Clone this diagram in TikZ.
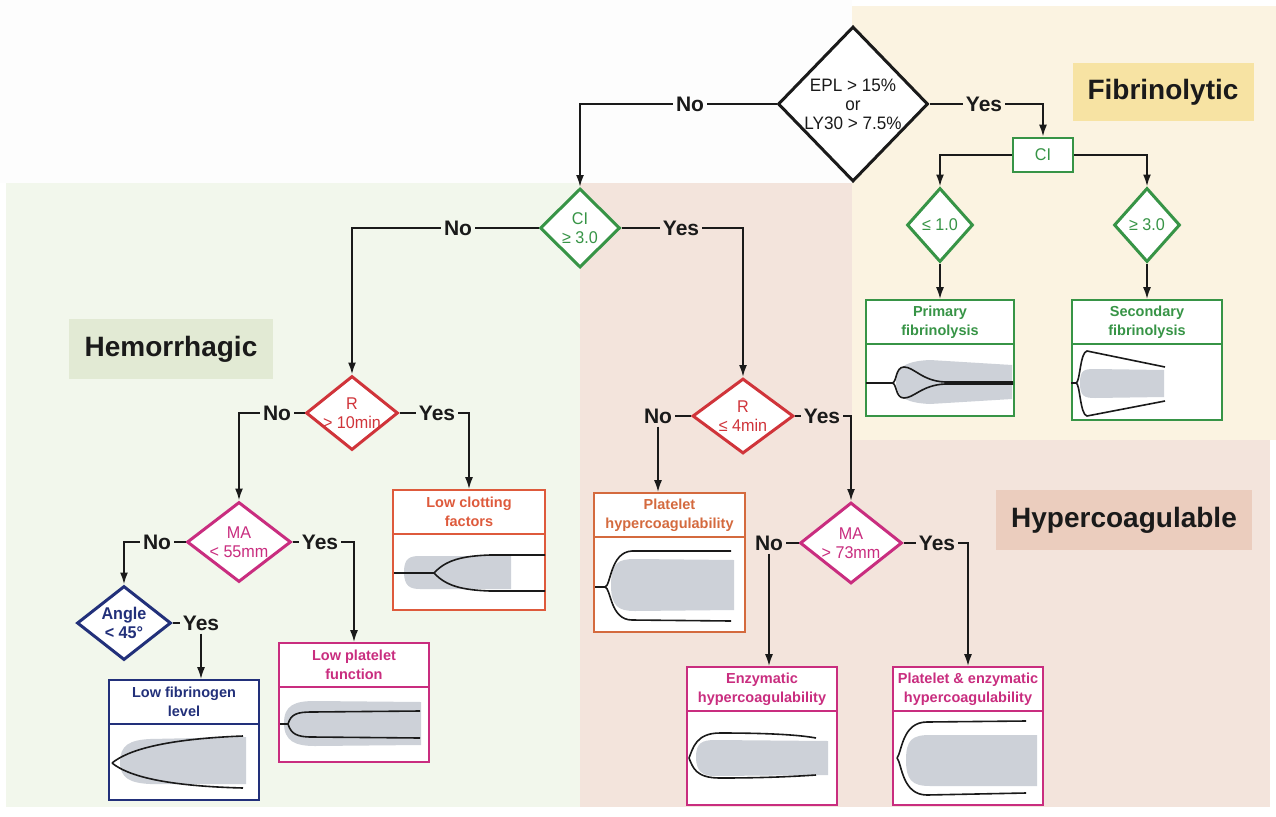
\documentclass[tikz,border=0pt]{standalone}
\usepackage{fontspec}
\usepackage{xcolor}
\usetikzlibrary{shapes.geometric,arrows.meta,positioning}
\setmainfont{Liberation Sans}
\newfontfamily\narrowsans[FakeStretch=0.95]{Liberation Sans}
\newcommand\diafont{\narrowsans\fontsize{17}{19}\selectfont}
\newcommand\topdiafont{\narrowsans\fontsize{18}{19}\selectfont}
\newcommand\ttlfont{\bfseries\fontsize{14.5}{19}\selectfont}
\newcommand\ansfont{\bfseries\fontsize{21}{21}\selectfont}
\newcommand\regfont{\bfseries\fontsize{28}{28}\selectfont}
\definecolor{vblack}{HTML}{1A1A1A}
\definecolor{vgreen}{HTML}{379446}
\definecolor{vred}{HTML}{D0343A}
\definecolor{vorange}{HTML}{DE5A3C}
\definecolor{vbrown}{HTML}{D46A3E}
\definecolor{vmagenta}{HTML}{C92D7F}
\definecolor{vnavy}{HTML}{22307A}
\definecolor{vgray}{HTML}{CDD1D8}
\definecolor{bgtop}{HTML}{FDFDFD}
\definecolor{bggreen}{HTML}{F2F7EC}
\definecolor{bgpink}{HTML}{F3E4DC}
\definecolor{bgyellow}{HTML}{FBF3E1}
\definecolor{lblyellow}{HTML}{F7E3A3}
\definecolor{lblgreen}{HTML}{E2EAD4}
\definecolor{lblpink}{HTML}{EBCDBE}

\begin{document}
\begin{tikzpicture}[x=1pt, y=-1pt,
	decide/.style={diamond, draw=#1, text=#1, line width=3pt, fill=white, aspect=1, inner sep=-12pt, align=center, font=\diafont},
	result/.style={rectangle, draw=#1, line width=1.6pt, fill=white, inner sep=0pt},
	ttl/.style={text=#1, font=\ttlfont, align=center, inner sep=0pt},
	answer/.style={font=\ansfont, text=vblack, inner sep=3pt},
	region/.style={fill=#1, font=\regfont, text=vblack, inner sep=0pt},
	link/.style={draw=vblack, line width=2pt},
	flow/.style={link, -{Latex[length=12pt,width=8pt]}},
	trace/.style={draw=vblack, line width=1.6pt},
	blob/.style={fill=vgray}]
	\useasboundingbox (0,0) rectangle (1276,816);
	% backgrounds
	\fill[white] (0,0) rectangle (1276,816);
	\fill[bgtop] (0,0) rectangle (852,183);
	\fill[bgyellow] (852,6) rectangle (1276,440);
	\fill[bggreen] (6,183) rectangle (580,807);
	\fill[bgpink] (580,183) rectangle (852,807);
	\fill[bgpink] (852,440) rectangle (1270,807);
	\node[region=lblyellow, minimum width=181pt, minimum height=58pt] (fiblbl) at (1163,92) {Fibrinolytic};
	\node[region=lblgreen, minimum width=204pt, minimum height=60pt] (hemlbl) at (171,349) {Hemorrhagic};
	\node[region=lblpink, minimum width=256pt, minimum height=60pt] (hyplbl) at (1124,520) {Hypercoagulable};

	% decisions
	\node[decide=vblack, minimum width=150pt, minimum height=155pt, font=\topdiafont] (epl) at (853,104) {EPL > 15\%\\or\\LY30 > 7.5\%};
	\node[rectangle, draw=vgreen, text=vgreen, line width=2.6pt, fill=white, minimum width=60pt, minimum height=34pt, font=\diafont] (cibox) at (1043,155) {CI};
	\node[decide=vgreen, minimum width=66pt, minimum height=74pt] (le1) at (940,225) {≤ 1.0};
	\node[decide=vgreen, minimum width=66pt, minimum height=74pt] (ge3) at (1147,225) {≥ 3.0};
	\node[decide=vgreen, minimum width=80pt, minimum height=79pt] (ci3) at (580,228) {CI\\≥ 3.0};
	\node[decide=vred, minimum width=92pt, minimum height=74pt] (r10) at (352,413) {R\\> 10min};
	\node[decide=vred, minimum width=101pt, minimum height=75pt] (r4) at (743,416) {R\\≤ 4min};
	\node[decide=vmagenta, minimum width=104pt, minimum height=80pt] (ma55) at (239,542) {MA\\< 55mm};
	\node[decide=vmagenta, minimum width=102pt, minimum height=81pt] (ma73) at (851,543) {MA\\> 73mm};
	\node[decide=vnavy, minimum width=94pt, minimum height=74pt, font=\diafont\bfseries] (angle) at (124,623) {Angle\\< 45°};

	% outcome boxes
	\node[result=vgreen, minimum width=148pt, minimum height=116pt] (prim) at (940,358) {};
	\node[result=vgreen, minimum width=150pt, minimum height=120pt] (sec) at (1147,360) {};
	\node[result=vorange, minimum width=152pt, minimum height=120pt] (lowclot) at (469,550) {};
	\node[result=vnavy, minimum width=150pt, minimum height=120pt] (lowfib) at (184,740) {};
	\node[result=vmagenta, minimum width=150pt, minimum height=119pt] (lowplat) at (354,702.5) {};
	\node[result=vbrown, minimum width=151pt, minimum height=139pt] (plathyp) at (669.5,562.5) {};
	\node[result=vmagenta, minimum width=150pt, minimum height=138pt] (enzhyp) at (762,736) {};
	\node[result=vmagenta, minimum width=150pt, minimum height=138pt] (bothhyp) at (968,736) {};
	\foreach \b/\c in {prim/vgreen, sec/vgreen, lowclot/vorange, lowfib/vnavy, lowplat/vmagenta, plathyp/vbrown, enzhyp/vmagenta, bothhyp/vmagenta}
		\draw[\c, line width=1.6pt] ([yshift=-45pt]\b.north west) -- ([yshift=-45pt]\b.north east);
	\node[ttl=vgreen] (primttl) at ([yshift=-23pt]prim.north) {Primary\\fibrinolysis};
	\node[ttl=vgreen] (secttl) at ([yshift=-23pt]sec.north) {Secondary\\fibrinolysis};
	\node[ttl=vorange] (lowclotttl) at ([yshift=-23pt]lowclot.north) {Low clotting\\factors};
	\node[ttl=vnavy] (lowfibttl) at ([yshift=-23pt]lowfib.north) {Low fibrinogen\\level};
	\node[ttl=vmagenta] (lowplatttl) at ([yshift=-23pt]lowplat.north) {Low platelet\\function};
	\node[ttl=vbrown] (plathypttl) at ([yshift=-23pt]plathyp.north) {Platelet\\hypercoagulability};
	\node[ttl=vmagenta] (enzhypttl) at ([yshift=-23pt]enzhyp.north) {Enzymatic\\hypercoagulability};
	\node[ttl=vmagenta] (bothhypttl) at ([yshift=-23pt]bothhyp.north) {Platelet \& enzymatic\\hypercoagulability};

	% tracings
	\fill[blob] (896,382) .. controls (896,366) and (908,361) .. (930,360) -- (1012,365) -- (1012,399) -- (930,404) .. controls (908,403) and (896,398) .. (896,382);
	\draw[trace] (866,383) -- (892,383) .. controls (897,383) and (895,367) .. (904,367) .. controls (914,367) and (922,381) .. (945,382) -- (1013,382);
	\draw[trace] (892,383) .. controls (897,383) and (895,398) .. (904,398) .. controls (914,398) and (922,385) .. (945,384) -- (1013,384);
	\fill[blob] (1080,383) .. controls (1080,370) and (1084,369) .. (1095,369) -- (1164,370) -- (1164,397) -- (1095,398) .. controls (1084,398) and (1080,396) .. (1080,383);
	\draw[trace] (1071,383) -- (1076,383) .. controls (1080,383) and (1080,352) .. (1087,351) -- (1165,367);
	\draw[trace] (1076,383) .. controls (1080,383) and (1080,415) .. (1087,416) -- (1165,401);
	\fill[blob] (404,572) .. controls (404,558) and (410,556) .. (420,556) -- (511,556) -- (511,589) -- (420,589) .. controls (410,589) and (404,586) .. (404,572);
	\draw[trace] (394,573) -- (434,573) .. controls (446,560) and (462,556) .. (490,555) -- (545,555);
	\draw[trace] (434,573) .. controls (446,586) and (462,590) .. (490,591) -- (545,591);
	\fill[blob] (120,762) .. controls (120,745) and (130,740) .. (150,739) -- (246,737) -- (246,784) -- (150,784) .. controls (130,783) and (120,778) .. (120,762);
	\draw[trace] (112,763) .. controls (128,750) and (165,739) .. (243,736);
	\draw[trace] (112,763) .. controls (128,776) and (165,786) .. (243,788);
	\fill[blob] (284,723) .. controls (284,705) and (295,701) .. (315,701) -- (421,702) -- (421,745) -- (315,746) .. controls (295,746) and (284,741) .. (284,723);
	\draw[trace] (280,724) -- (288,724) .. controls (291,714) and (297,712) .. (312,712) -- (420,711);
	\draw[trace] (288,724) .. controls (291,734) and (297,737) .. (312,737) -- (420,738);
	\fill[blob] (611,585) .. controls (611,563) and (618,559) .. (635,559) -- (734,560) -- (734,610) -- (635,611) .. controls (618,611) and (611,606) .. (611,585);
	\draw[trace] (595,587) -- (605,587) .. controls (611,586) and (610,552) .. (632,551) -- (731,551);
	\draw[trace] (605,587) .. controls (611,588) and (610,620) .. (632,620) -- (731,621);
	\fill[blob] (696,757) .. controls (696,743) and (702,740) .. (715,740) -- (828,741) -- (828,775) -- (715,776) .. controls (702,776) and (696,771) .. (696,757);
	\draw[trace] (689,758) .. controls (693,748) and (696,733) .. (720,733) .. controls (770,733) and (800,735) .. (816,738);
	\draw[trace] (689,758) .. controls (693,768) and (696,778) .. (720,778) .. controls (770,778) and (800,776) .. (816,775);
	\fill[blob] (906,760) .. controls (906,740) and (912,735) .. (930,735) -- (1037,735) -- (1037,786) -- (930,786) .. controls (912,786) and (906,780) .. (906,760);
	\draw[trace] (897,758) .. controls (902,752) and (902,722) .. (927,722) -- (1026,721);
	\draw[trace] (897,758) .. controls (902,764) and (902,795) .. (927,795) -- (1026,793);

	% yes / no labels
	\node[answer] (no1) at (690,104) {No};
	\node[answer] (yes1) at (984,104) {Yes};
	\node[answer] (no2) at (458,228) {No};
	\node[answer] (yes2) at (681,228) {Yes};
	\node[answer] (no3) at (277,413) {No};
	\node[answer] (yes3) at (437,413) {Yes};
	\node[answer] (no4) at (157,542) {No};
	\node[answer] (yes4) at (320,542) {Yes};
	\node[answer] (yes6) at (201,623) {Yes};
	\node[answer] (no5) at (658,416) {No};
	\node[answer] (yes5) at (822,416) {Yes};
	\node[answer] (no6) at (769,543) {No};
	\node[answer] (yes7) at (937,543) {Yes};

	% connectors
	\draw[link] (epl.west) -- (no1.east);
	\draw[flow] (no1.west) -| (ci3.north);
	\draw[link] (epl.east) -- (yes1.west);
	\draw[flow] (yes1.east) -| (cibox.north);
	\draw[flow] (cibox.west) -| (le1.north);
	\draw[flow] (cibox.east) -| (ge3.north);
	\draw[flow] (le1.south) -- (prim.north);
	\draw[flow] (ge3.south) -- (sec.north);
	\draw[link] (ci3.west) -- (no2.east);
	\draw[flow] (no2.west) -| (r10.north);
	\draw[link] (ci3.east) -- (yes2.west);
	\draw[flow] (yes2.east) -| (r4.north);
	\draw[link] (r10.west) -- (no3.east);
	\draw[flow] (no3.west) -| (ma55.north);
	\draw[link] (r10.east) -- (yes3.west);
	\draw[flow] (yes3.east) -| (lowclot.north);
	\draw[link] (ma55.west) -- (no4.east);
	\draw[flow] (no4.west) -| (angle.north);
	\draw[link] (ma55.east) -- (yes4.west);
	\draw[flow] (yes4.east) -| (lowplat.north);
	\draw[link] (angle.east) -- (yes6.west);
	\draw[flow] (yes6.south) -- (yes6.south |- lowfib.north);
	\draw[link] (r4.west) -- (no5.east);
	\draw[flow] (no5.south) -- (no5.south |- plathyp.north);
	\draw[link] (r4.east) -- (yes5.west);
	\draw[flow] (yes5.east) -| (ma73.north);
	\draw[link] (ma73.west) -- (no6.east);
	\draw[flow] (no6.south) -- (no6.south |- enzhyp.north);
	\draw[link] (ma73.east) -- (yes7.west);
	\draw[flow] (yes7.east) -| (bothhyp.north);
\end{tikzpicture}
\end{document}
